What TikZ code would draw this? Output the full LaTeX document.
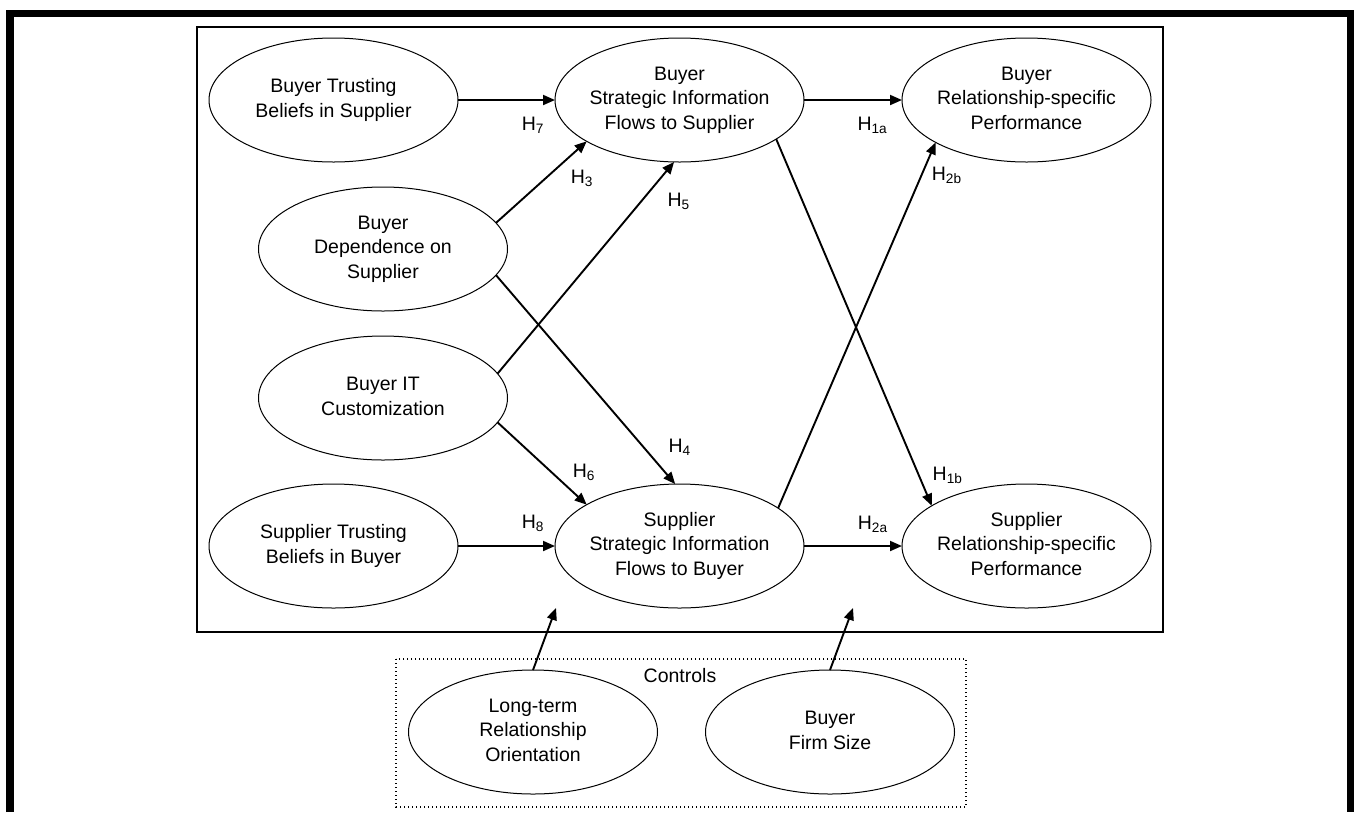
\documentclass[tikz,border=0pt]{standalone}
\usepackage{fontspec}
\setmainfont{Liberation Sans}
\usetikzlibrary{shapes.geometric,arrows.meta}
\newcommand{\ztext}[1]{\makebox[0pt]{\raisebox{-2pt}{\begin{tabular}{@{}c@{}}#1\end{tabular}}}}
\begin{document}
\begin{tikzpicture}[x=1pt,y=-1pt,
  latent/.style={draw, ellipse, line width=1pt, minimum width=249pt, minimum height=124pt,
    inner sep=0pt, outer sep=0pt, font=\fontsize{19.5}{24.5}\selectfont},
  hyp/.style={line width=1.9pt, -{Triangle[length=12pt,width=10pt]}},
  hlab/.style={anchor=base west, inner sep=0pt, font=\fontsize{19.5}{24.5}\selectfont},
  frame/.style={line width=1.2pt},
  ctrlbox/.style={line width=1.4pt, dash pattern=on 1.4pt off 2.6pt}
]
\useasboundingbox (0,0) rectangle (1354,812);
% outer thick border (open at the bottom)
\draw[line width=7.5pt] (9.8,812) -- (9.8,13.7) -- (1350.3,13.7) -- (1350.3,812);
% model frame and controls box
\draw[frame] (197,27) rectangle (1163,632);
\draw[ctrlbox] (396,659) rectangle (966,807);

% constructs
\node[latent] (btb)  at (333.5,100) {\ztext{Buyer Trusting\\Beliefs in Supplier}};
\node[latent] (bsif) at (679.5,100) {\ztext{Buyer\\Strategic Information\\Flows to Supplier}};
\node[latent] (brp)  at (1026.5,100) {\ztext{Buyer\\Relationship-specific\\Performance}};
\node[latent] (bds)  at (383,249) {\ztext{Buyer\\Dependence on\\Supplier}};
\node[latent] (bit)  at (383,398) {\ztext{Buyer IT\\Customization}};
\node[latent] (stb)  at (333.5,546) {\ztext{Supplier Trusting\\Beliefs in Buyer}};
\node[latent] (ssif) at (679.5,546) {\ztext{Supplier\\Strategic Information\\Flows to Buyer}};
\node[latent] (srp)  at (1026.5,546) {\ztext{Supplier\\Relationship-specific\\Performance}};
\node[latent] (lto)  at (533,732) {\ztext{Long-term\\Relationship\\Orientation}};
\node[latent] (bfs)  at (830,732) {\ztext{Buyer\\Firm Size}};
\node[anchor=base, inner sep=0pt, font=\fontsize{19.5}{24.5}\selectfont] (ctl) at (680,682) {Controls};

% free ends of the control arrows
\coordinate (c1) at (556,608);
\coordinate (c2) at (853,608);

% hypothesised paths
\draw[hyp] (btb.east) -- (bsif.west);
\draw[hyp] (bsif.east) -- (brp.west);
\draw[hyp] (stb.east) -- (ssif.west);
\draw[hyp] (ssif.east) -- (srp.west);
\draw[hyp] (bds.13) -- (bsif.204);
\draw[hyp] (bit.12) -- (bsif.265);
\draw[hyp] (bds.-13) -- (ssif.94);
\draw[hyp] (bit.-12) -- (ssif.156);
\draw[hyp] (ssif.21) -- (brp.205);
\draw[hyp] (bsif.-22) -- (srp.157);
\draw[hyp] (lto.north) -- (c1);
\draw[hyp] (bfs.north) -- (c2);

% labels
\node[hlab] (h7)  at (521.7,130.7) {H\textsubscript{7}};
\node[hlab] (h1a) at (857.3,130.7) {H\textsubscript{1a}};
\node[hlab] (h3)  at (570.7,183.3) {H\textsubscript{3}};
\node[hlab] (h5)  at (667.3,206) {H\textsubscript{5}};
\node[hlab] (h2b) at (931.7,180.7) {H\textsubscript{2b}};
\node[hlab] (h4)  at (668.3,452.7) {H\textsubscript{4}};
\node[hlab] (h6)  at (572.7,477.3) {H\textsubscript{6}};
\node[hlab] (h1b) at (932.5,480) {H\textsubscript{1b}};
\node[hlab] (h8)  at (521.7,528.5) {H\textsubscript{8}};
\node[hlab] (h2a) at (857.7,529) {H\textsubscript{2a}};
\end{tikzpicture}
\end{document}
